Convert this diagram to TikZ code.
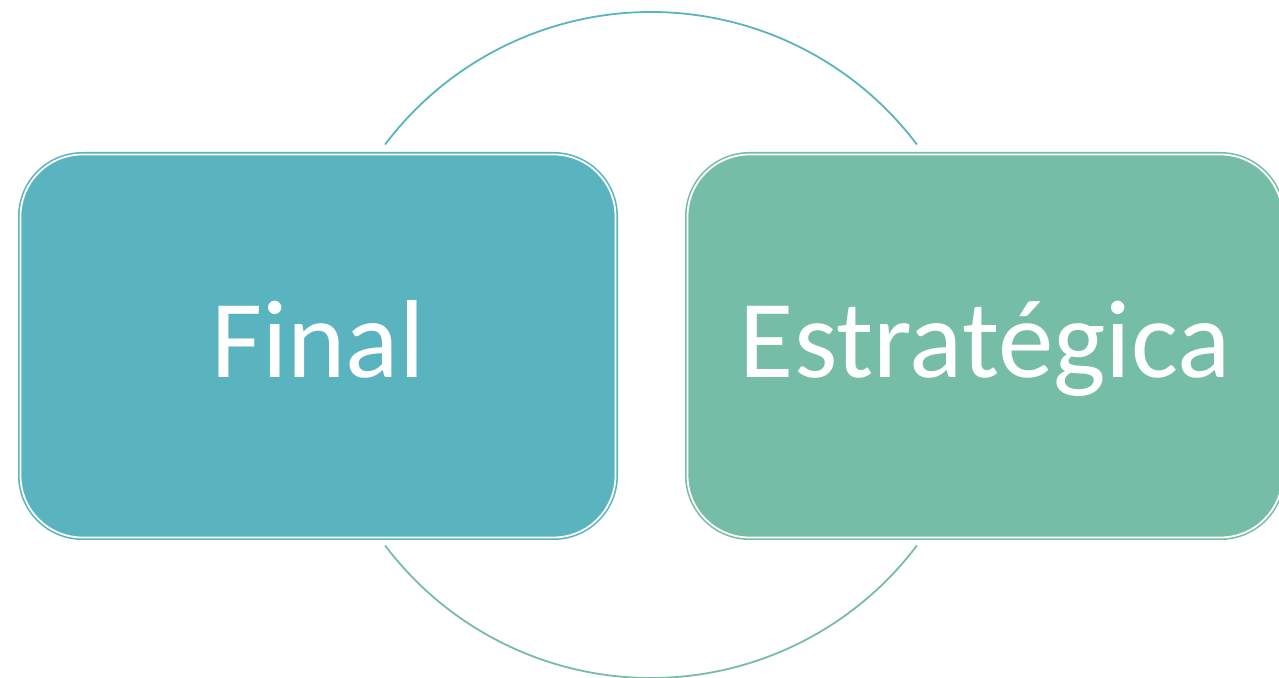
\documentclass[tikz,border=0pt]{standalone}
\usepackage{fontspec}
\setmainfont{Carlito}
\definecolor{tealbox}{RGB}{89,180,192}
\definecolor{greenbox}{RGB}{118,189,167}
\tikzset{
  box/.style={draw=#1,fill=#1,double=white,double distance=1.8pt,line width=1.6pt,
    rounded corners=62pt,minimum width=595pt,minimum height=383pt,inner sep=0pt,
    text=white,text height=64pt,text depth=0pt,font=\fontsize{111}{116}\selectfont},
}
\begin{document}
\begin{tikzpicture}[x=1pt,y=1pt,line width=1.8pt]
\useasboundingbox (0,0) rectangle (1279,677);
\coordinate (c) at (651,332);
\draw[tealbox] (c) ++(143:333) arc[start angle=143,end angle=37,radius=333];
\draw[greenbox] (c) ++(217:333) arc[start angle=217,end angle=323,radius=333];
\node[box=tealbox] (final) at (318,331) {Final};
\node[box=greenbox] (estrategica) at (985,331) {Estratégica};
\end{tikzpicture}
\end{document}
